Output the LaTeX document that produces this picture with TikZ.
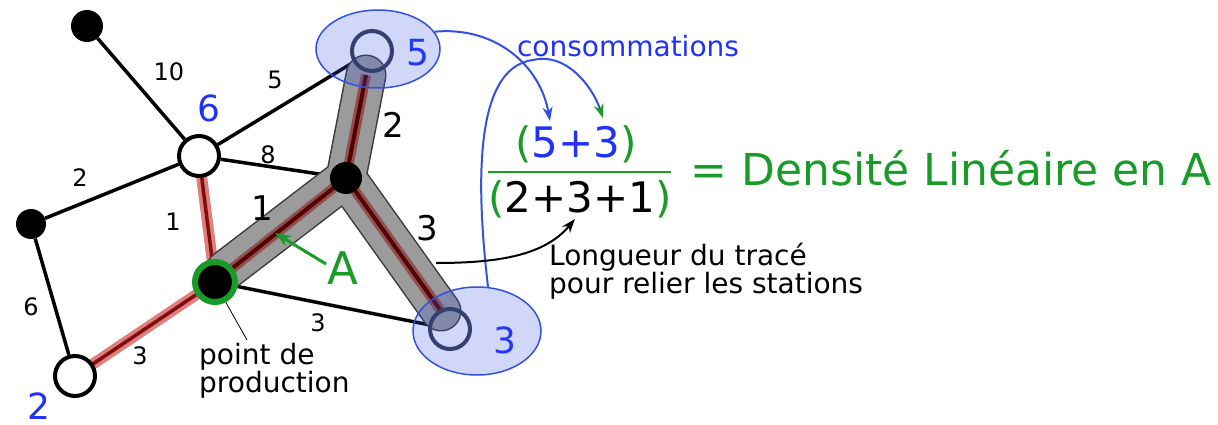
\documentclass[tikz,border=0pt]{standalone}
\usepackage{fontspec}
\setmainfont{DejaVu Sans}
\usetikzlibrary{arrows.meta,shapes.geometric}
\definecolor{gr}{RGB}{25,155,40}
\definecolor{tblue}{RGB}{30,50,250}
\definecolor{ablue}{RGB}{50,80,225}
\definecolor{halo}{RGB}{225,125,125}
\definecolor{darkred}{RGB}{125,15,15}
\definecolor{bandhalo}{RGB}{145,80,80}
\definecolor{bandred}{RGB}{85,0,0}
\definecolor{bandgray}{RGB}{155,155,155}
\definecolor{bandedge}{RGB}{60,60,60}
\definecolor{slate}{RGB}{55,60,80}
\pgfdeclarelayer{edges}
\pgfdeclarelayer{band}
\pgfsetlayers{edges,band,main}
\tikzset{
  dot/.style={circle, fill=black, inner sep=0pt},
  wnode/.style={circle, draw=black, line width=4pt, fill=white, inner sep=0pt, minimum size=40pt},
  onode/.style={circle, draw=slate, line width=4pt, inner sep=0pt, minimum size=40pt},
  edge/.style={line width=3.5pt},
  redhalo/.style={line width=11pt, halo},
  redcore/.style={line width=3.5pt, darkred},
  small/.style={font=\fontsize{24}{28}\selectfont},
  big/.style={font=\fontsize{34}{40}\selectfont},
  bluelbl/.style={font=\fontsize{36}{40}\selectfont, text=tblue, inner sep=0pt},
  ell/.style={ellipse, draw=ablue, fill=ablue, fill opacity=0.23, line width=1.5pt, inner sep=0pt},
  barrow/.style={ablue, line width=2pt, -{Stealth[length=14pt,width=10pt]}},
}
\begin{document}
\begin{tikzpicture}[x=1pt,y=-1pt]
\useasboundingbox (0,0) rectangle (1218,425);
% nodes
\node[dot, minimum size=32pt] (tl) at (87,26) {};
\node[wnode] (n6) at (199,156) {};
\node[dot, minimum size=30pt] (lf) at (31,224) {};
\node[wnode] (n2) at (75,376) {};
\node[circle, fill=black, draw=gr, line width=6pt, inner sep=0pt, minimum size=40pt] (pr) at (215,282) {};
\node[dot, minimum size=32pt] (jn) at (346,178) {};
\node[onode] (n5) at (372,51) {};
\node[onode] (n3) at (450,329) {};
\coordinate (b5) at (366,75);
\coordinate (b3) at (441,311);
\coordinate (bp) at (226,270);
\begin{pgfonlayer}{edges}
\draw[edge] (tl) -- (n6);
\draw[edge] (n6) -- (n5);
\draw[edge] (n6) -- (jn);
\draw[edge] (n6) -- (lf);
\draw[edge] (lf) -- (n2);
\draw[edge] (pr) -- (n3);
\draw[redhalo] (n6.center) -- (pr.center);
\draw[redhalo] (n2.center) -- (pr.center);
\draw[redcore] (n6.center) -- (pr.center);
\draw[redcore] (n2.center) -- (pr.center);
\end{pgfonlayer}
\begin{pgfonlayer}{band}
\draw[bandedge, line width=41pt, line cap=round, line join=round] (b5) -- (jn.center) -- (bp) (jn.center) -- (b3);
\draw[bandgray, line width=38pt, line cap=round, line join=round] (b5) -- (jn.center) -- (bp) (jn.center) -- (b3);
\draw[bandhalo, line width=10pt] (b5) -- (jn.center) -- (pr.center) (jn.center) -- (b3);
\draw[bandred, line width=4pt] (b5) -- (jn.center) -- (pr.center) (jn.center) -- (b3);
\end{pgfonlayer}
% pointer to production
\coordinate (pp) at (247,340);
\draw[line width=0.8pt] (pr.-62) -- (pp);
% edge labels
\node[small] (l10) at (169,72) {10};
\node[small] (l5) at (275,80) {5};
\node[small] (l8) at (268,155) {8};
\node[small] (l2) at (80,178) {2};
\node[small] (l1) at (173,222) {1};
\node[small] (l6) at (31,307) {6};
\node[small] (l3a) at (140,356) {3};
\node[small] (l3b) at (318,323) {3};
\node[big] (L2) at (393,125) {2};
\node[big] (L1) at (262,208) {1};
\node[big] (L3) at (427,228) {3};
% blue node labels
\node[bluelbl] (c6) at (209,108) {6};
\node[bluelbl] (c2) at (39,406) {2};
\node[bluelbl] (c5) at (418,53) {5};
\node[bluelbl] (c3) at (505,340) {3};
% ellipses
\node[ell, minimum width=124pt, minimum height=78pt] (e5) at (378,49) {};
\node[ell, minimum width=128pt, minimum height=88pt] (e3) at (477,331) {};
% A
\node[font=\fontsize{45}{50}\selectfont, text=gr] (A) at (343,268) {A};
\coordinate (atip) at (275,233);
\draw[gr, line width=3pt, -{Stealth[length=16pt,width=12pt]}] (A.west) ++(2,-4) -- (atip);
% formula
\node[font=\fontsize{28}{32}\selectfont, text=tblue] (cons) at (628,46) {consommations};
\node[font=\fontsize{42}{48}\selectfont] (num) at (576,144) {\textcolor{gr}{(}\textcolor{tblue}{5+3}\textcolor{gr}{)}};
\coordinate (fl) at (488,172);
\coordinate (fr) at (671,172);
\draw[gr, line width=2.5pt] (fl) -- (fr);
\node[font=\fontsize{42}{48}\selectfont] (den) at (580,199) {\textcolor{gr}{(}2+3+1\textcolor{gr}{)}};
\node[font=\fontsize{44}{48}\selectfont, text=gr, anchor=west] (dens) at (687,168) {= Densité Linéaire en A};
\node[font=\fontsize{28}{21}\selectfont, anchor=north west, align=left, inner sep=0pt] (long) at (549,243) {Longueur du tracé\\pour relier les stations};
\node[font=\fontsize{28}{21}\selectfont, anchor=north west, align=left, inner sep=0pt] (prod) at (199,343) {point de\\production};
% arrows
\coordinate (t1) at (550,121);
\draw[barrow] (e5.17) .. controls (495,26) and (540,65) .. (t1);
\coordinate (top2) at (533,60);
\coordinate (t2) at (603,118);
\draw[ablue, line width=2pt] (e3.76) .. controls (478,200) and (470,68) .. (top2);
\draw[ablue, line width=2pt, -{Stealth[length=14pt,width=10pt,color=gr]}] (top2) .. controls (565,52) and (592,85) .. (t2);
\coordinate (bs) at (436,263);
\coordinate (t3) at (575,219);
\draw[line width=2pt, -{Stealth[length=14pt,width=10pt]}] (bs) .. controls (500,263) and (545,255) .. (t3);
\end{tikzpicture}
\end{document}
